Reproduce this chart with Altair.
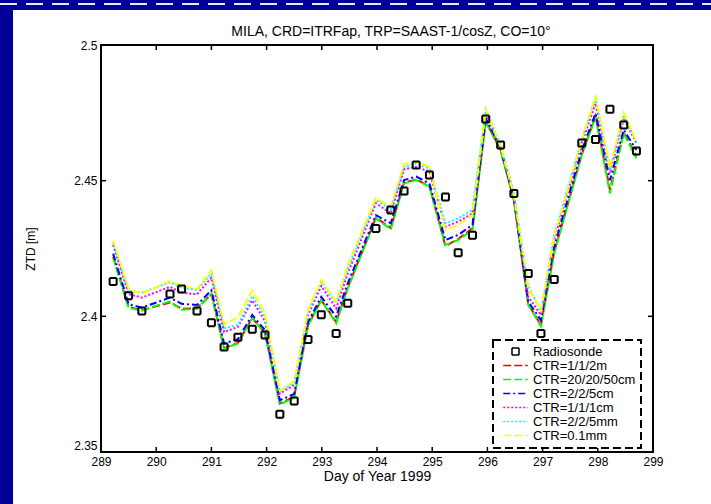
import altair as alt
import pandas as pd

# ---- data ----
day = [289.22, 289.50, 289.74, 290.25, 290.46, 290.74, 291.00, 291.23, 291.48, 291.74,
       291.97, 292.24, 292.50, 292.75, 292.99, 293.26, 293.47, 293.98, 294.25, 294.49,
       294.71, 294.95, 295.24, 295.47, 295.73, 295.97, 296.24, 296.48, 296.74, 296.97,
       297.21, 297.71, 297.96, 298.22, 298.47, 298.70]

radiosonde = [2.4128, 2.4076, 2.4020, 2.4082, 2.4101, 2.4020, 2.3976, 2.3887, 2.3923, 2.3952,
              2.3931, 2.3639, 2.3688, 2.3915, 2.4006, 2.3937, 2.4048, 2.4324, 2.4392, 2.4462,
              2.4558, 2.4521, 2.4440, 2.4234, 2.4299, 2.4727, 2.4631, 2.4453, 2.4158, 2.3937,
              2.4136, 2.4639, 2.4652, 2.4763, 2.4705, 2.4609]

ctr_1_1_2m = [2.4220, 2.4034, 2.4023, 2.4051, 2.4028, 2.4030, 2.4082, 2.3883, 2.3902, 2.3994,
              2.3938, 2.3679, 2.3704, 2.3968, 2.4060, 2.3979, 2.4106, 2.4364, 2.4325, 2.4493,
              2.4504, 2.4480, 2.4259, 2.4285, 2.4324, 2.4720, 2.4613, 2.4429, 2.4045, 2.3968,
              2.4237, 2.4598, 2.4738, 2.4466, 2.4678, 2.4591]

ctr_20_20_50cm = [2.4217, 2.4031, 2.4021, 2.4055, 2.4024, 2.4028, 2.4082, 2.3881, 2.3900, 2.3994,
                  2.3938, 2.3675, 2.3701, 2.3964, 2.4060, 2.3974, 2.4103, 2.4361, 2.4321, 2.4490,
                  2.4502, 2.4478, 2.4263, 2.4281, 2.4318, 2.4717, 2.4610, 2.4429, 2.4042, 2.3964,
                  2.4232, 2.4595, 2.4736, 2.4453, 2.4675, 2.4582]

ctr_2_2_5cm = [2.4231, 2.4045, 2.4032, 2.4069, 2.4046, 2.4042, 2.4096, 2.3900, 2.3916, 2.4005,
               2.3949, 2.3691, 2.3714, 2.3979, 2.4072, 2.3999, 2.4122, 2.4373, 2.4343, 2.4502,
               2.4515, 2.4490, 2.4281, 2.4300, 2.4337, 2.4730, 2.4619, 2.4435, 2.4054, 2.3986,
               2.4257, 2.4613, 2.4748, 2.4502, 2.4687, 2.4613]

ctr_1_1_1cm = [2.4263, 2.4082, 2.4069, 2.4109, 2.4088, 2.4081, 2.4143, 2.3942, 2.3961, 2.4059,
               2.3983, 2.3715, 2.3747, 2.4005, 2.4112, 2.4029, 2.4158, 2.4417, 2.4380, 2.4542,
               2.4551, 2.4533, 2.4330, 2.4349, 2.4380, 2.4748, 2.4625, 2.4447, 2.4072, 2.4005,
               2.4281, 2.4638, 2.4785, 2.4527, 2.4730, 2.4638]

ctr_2_2_5mm = [2.4271, 2.4093, 2.4088, 2.4125, 2.4106, 2.4097, 2.4158, 2.3957, 2.3968, 2.4075,
               2.3997, 2.3722, 2.3756, 2.4016, 2.4128, 2.4048, 2.4177, 2.4429, 2.4394, 2.4551,
               2.4564, 2.4545, 2.4343, 2.4361, 2.4392, 2.4763, 2.4631, 2.4453, 2.4112, 2.4017,
               2.4300, 2.4652, 2.4804, 2.4539, 2.4742, 2.4640]

ctr_0_1mm = [2.4279, 2.4101, 2.4084, 2.4130, 2.4112, 2.4101, 2.4170, 2.3972, 2.3996, 2.4095,
             2.4012, 2.3727, 2.3761, 2.4023, 2.4134, 2.4054, 2.4189, 2.4435, 2.4404, 2.4561,
             2.4570, 2.4551, 2.4318, 2.4337, 2.4373, 2.4760, 2.4625, 2.4447, 2.4103, 2.4023,
             2.4293, 2.4650, 2.4812, 2.4546, 2.4750, 2.4644]

series_names = ["Radiosonde", "CTR=1/1/2m", "CTR=20/20/50cm", "CTR=2/2/5cm",
                "CTR=1/1/1cm", "CTR=2/2/5mm", "CTR=0.1mm"]
series_colors = ["#000000", "#FF0000", "#00FF00", "#0000FF", "#FF00FF", "#00FFFF", "#FFFF00"]
series_dashes = [[1, 0], [8, 3], [8, 3], [7, 3, 2, 3], [2, 2], [2, 2], [8, 3]]
series_shapes = ["M-1,-1L1,-1L1,1L-1,1Z"] + ["M-3.5,0L3.5,0"] * 6

x_ticks = [289, 290, 291, 292, 293, 294, 295, 296, 297, 298, 299]
y_ticks = [2.35, 2.4, 2.45, 2.5]

title_text = "MILA, CRD=ITRFap, TRP=SAAST-1/cosZ, CO=10°"
x_title = "Day of Year 1999"
y_title = "ZTD [m]"

# ---- tables ----
ctr_values = [ctr_1_1_2m, ctr_20_20_50cm, ctr_2_2_5cm, ctr_1_1_1cm, ctr_2_2_5mm, ctr_0_1mm]
rows = []
for name, vals in zip(series_names[1:], ctr_values):
    for d, v in zip(day, vals):
        rows.append({"series": name, "day": d, "ztd": v})
lines_df = pd.DataFrame(rows)
rs_df = pd.DataFrame({"series": "Radiosonde", "day": day, "ztd": radiosonde})
xt_df = pd.DataFrame({"t": x_ticks})
yt_df = pd.DataFrame({"t": y_ticks})
one = pd.DataFrame({"k": [0]})
title_df = pd.DataFrame({"label": [title_text]})

W, H = 552, 407
FONT = "Liberation Sans"

xscale = alt.Scale(domain=[289, 299], nice=False, zero=False)
yscale = alt.Scale(domain=[2.35, 2.5], nice=False, zero=False)

leg = alt.Legend(title=None, orient="none", legendX=392, legendY=295, zindex=2)
color_enc = alt.Color("series:N", scale=alt.Scale(domain=series_names, range=series_colors), legend=leg)
dash_enc = alt.StrokeDash("series:N", scale=alt.Scale(domain=series_names, range=series_dashes), legend=leg)
shape_enc = alt.Shape("series:N", scale=alt.Scale(domain=series_names, range=series_shapes), legend=leg)

x_enc = alt.X("day:Q", scale=xscale,
              axis=alt.Axis(values=x_ticks, format="d", title=x_title, ticks=False, domain=False,
                            grid=False, labelPadding=4, titlePadding=2, titleFontSize=14,
                            labelFlush=False))
y_enc = alt.Y("ztd:Q", scale=yscale,
              axis=alt.Axis(values=y_ticks, format=".2~f", title=y_title, ticks=False, domain=False,
                            grid=False, labelPadding=4, titlePadding=36, titleFontSize=12,
                            labelFlush=False,
                            labelBaseline={"expr": "datum.value < 2.36 ? 'bottom' : 'middle'"}))

# decorative blue frame strips (outside the plot)
left_strip = alt.Chart(one).mark_rect(color="#000099").encode(
    x=alt.value(-101), x2=alt.value(-88), y=alt.value(-45), y2=alt.value(459))
top_strip = alt.Chart(one).mark_rect(color="#000099").encode(
    x=alt.value(-101), x2=alt.value(610), y=alt.value(-45), y2=alt.value(-35))
top_dash = alt.Chart(one).mark_rule(color="#E8E8FF", strokeWidth=2, strokeDash=[17, 9]).encode(
    x=alt.value(-101), x2=alt.value(610), y=alt.value(-41))

title_mark = alt.Chart(title_df).mark_text(
    font=FONT, fontSize=14, color="black", align="center", baseline="bottom").encode(
    text="label:N", x=alt.value(W / 2 + 14), y=alt.value(-6))

lines = alt.Chart(lines_df).mark_line(strokeWidth=2, clip=True).encode(
    x=x_enc, y=y_enc, color=color_enc, strokeDash=dash_enc,
    order=alt.Order("day:Q"))

points = alt.Chart(rs_df).mark_point(filled=False, size=49, strokeWidth=2, opacity=1).encode(
    x=alt.X("day:Q", scale=xscale), y=alt.Y("ztd:Q", scale=yscale),
    color=color_enc, shape=shape_enc, strokeDash=dash_enc)

tick_bottom = alt.Chart(xt_df).mark_rule(color="black", strokeWidth=1.5).encode(
    x=alt.X("t:Q", scale=xscale), y=alt.value(H), y2=alt.value(H - 5))
tick_top = alt.Chart(xt_df).mark_rule(color="black", strokeWidth=1.5).encode(
    x=alt.X("t:Q", scale=xscale), y=alt.value(0), y2=alt.value(5))
tick_left = alt.Chart(yt_df).mark_rule(color="black", strokeWidth=1.5).encode(
    y=alt.Y("t:Q", scale=yscale), x=alt.value(0), x2=alt.value(5))
tick_right = alt.Chart(yt_df).mark_rule(color="black", strokeWidth=1.5).encode(
    y=alt.Y("t:Q", scale=yscale), x=alt.value(W), x2=alt.value(W - 5))

chart = alt.layer(
    left_strip, top_strip, top_dash, title_mark, lines, points,
    tick_bottom, tick_top, tick_left, tick_right
).properties(
    width=W, height=H,
    autosize=alt.AutoSizeParams(type="none"),
    padding={"left": 101, "top": 45, "right": 58, "bottom": 52},
).configure(
    background="white",
).configure_view(
    stroke="black", strokeWidth=2, fill="white"
).configure_axis(
    labelFont=FONT, titleFont=FONT, labelFontSize=12,
    labelColor="black", titleColor="black", titleFontWeight="normal",
).configure_legend(
    labelFont=FONT, labelFontSize=13, labelColor="black",
    strokeColor="black", strokeDash=[8, 4], strokeWidth=2, fillColor="white",
    padding=5, symbolSize=49, symbolOffset=11, labelOffset=11, rowPadding=0,
    symbolStrokeWidth=1.5, symbolFillColor="transparent",
)

chart.save("out.html", embed_options={"renderer": "svg", "actions": False})
